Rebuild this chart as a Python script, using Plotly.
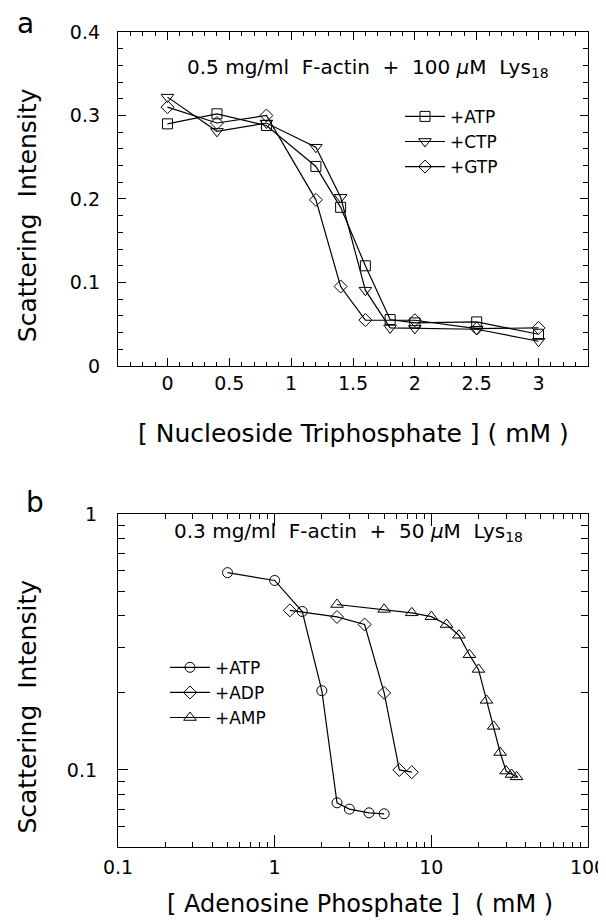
import plotly.graph_objects as go

# ---------------- Panel a data ----------------
ntp_x_atp = [0, 0.4, 0.8, 1.2, 1.4, 1.6, 1.8, 2.0, 2.5, 3.0]
ntp_y_atp = [0.29, 0.302, 0.288, 0.239, 0.19, 0.12, 0.0556, 0.0516, 0.0528, 0.038]
ntp_x_ctp = [0, 0.4, 0.8, 1.2, 1.4, 1.6, 1.8, 2.0, 2.5, 3.0]
ntp_y_ctp = [0.322, 0.281, 0.291, 0.262, 0.202, 0.0908, 0.0456, 0.045, 0.044, 0.0296]
ntp_x_gtp = [0, 0.4, 0.8, 1.2, 1.4, 1.6, 2.0, 2.5, 3.0]
ntp_y_gtp = [0.31, 0.291, 0.30, 0.199, 0.0952, 0.055, 0.0548, 0.0448, 0.0456]

a_xticks = [0, 0.5, 1, 1.5, 2, 2.5, 3]
a_xticktext = ["0", "0.5", "1", "1.5", "2", "2.5", "3"]
a_xminor = [-0.3, -0.2, -0.1, 0.1, 0.2, 0.3, 0.4, 0.6, 0.7, 0.8, 0.9,
            1.1, 1.2, 1.3, 1.4, 1.6, 1.7, 1.8, 1.9, 2.1, 2.2, 2.3, 2.4,
            2.6, 2.7, 2.8, 2.9, 3.1, 3.2, 3.3]
a_yticks = [0, 0.1, 0.2, 0.3, 0.4]
a_yticktext = ["0", "0.1", "0.2", "0.3", "0.4"]
a_yminor = [0.02, 0.04, 0.06, 0.08, 0.12, 0.14, 0.16, 0.18,
            0.22, 0.24, 0.26, 0.28, 0.32, 0.34, 0.36, 0.38]

# ---------------- Panel b data ----------------
ap_x_atp = [0.5, 1.0, 1.5, 2.0, 2.5, 3.0, 4.0, 5.0]
ap_y_atp = [0.59, 0.55, 0.416, 0.204, 0.0744, 0.0703, 0.068, 0.0674]
ap_x_adp = [1.25, 2.5, 3.75, 5.0, 6.25, 7.5]
ap_y_adp = [0.42, 0.396, 0.37, 0.2, 0.1, 0.098]
ap_x_amp = [2.5, 5.0, 7.5, 10, 12.5, 15, 17.5, 20, 22.5, 25, 27.5, 30, 32.5, 35]
ap_y_amp = [0.443, 0.424, 0.411, 0.397, 0.37, 0.336, 0.282, 0.247, 0.187, 0.148,
            0.117, 0.099, 0.096, 0.094]

b_xticks = [0.1, 1, 10, 100]
b_xticktext = ["0.1", "1", "10", "100"]
b_xminor = [0.2, 0.3, 0.4, 0.5, 0.6, 0.7, 0.8, 0.9,
            2, 3, 4, 5, 6, 7, 8, 9,
            20, 30, 40, 50, 60, 70, 80, 90]
b_yticks = [0.1, 1]
b_yticktext = ["0.1", "1"]
b_yminor = [0.06, 0.07, 0.08, 0.09, 0.2, 0.3, 0.4, 0.5, 0.6, 0.7, 0.8, 0.9]

FONT = "DejaVu Sans"
NB = "\u00a0"

fig = go.Figure()

line_style = dict(color="black", width=1.2)


def add(x, y, name, symbol, size, xa, ya, legend):
    fig.add_trace(go.Scatter(
        x=x, y=y, name=name, mode="lines+markers",
        line=line_style,
        marker=dict(symbol=symbol, size=size, color="black",
                    line=dict(color="black", width=1)),
        xaxis=xa, yaxis=ya, legend=legend,
    ))


add(ntp_x_atp, ntp_y_atp, "+ATP", "square-open", 10, "x", "y", "legend")
add(ntp_x_ctp, ntp_y_ctp, "+CTP", "triangle-down-open", 11, "x", "y", "legend")
add(ntp_x_gtp, ntp_y_gtp, "+GTP", "diamond-open", 10, "x", "y", "legend")

add(ap_x_atp, ap_y_atp, "+ATP", "circle-open", 10, "x2", "y2", "legend2")
add(ap_x_adp, ap_y_adp, "+ADP", "diamond-open", 10, "x2", "y2", "legend2")
add(ap_x_amp, ap_y_amp, "+AMP", "triangle-up-open", 11, "x2", "y2", "legend2")

axis_common = dict(
    showline=True, linecolor="black", linewidth=1.3, mirror="ticks",
    ticks="inside", tickcolor="black", tickwidth=1.3,
    showgrid=False, zeroline=False, automargin=False,
    tickfont=dict(family=FONT, size=19, color="black"),
)


def minor(vals, length):
    return dict(tickmode="array", tickvals=vals, ticks="inside",
                ticklen=length, tickcolor="black", tickwidth=1.3,
                showgrid=False)


fig.update_layout(
    width=606, height=920,
    margin=dict(l=110, r=26, t=24, b=81),
    paper_bgcolor="white", plot_bgcolor="white",
    font=dict(family=FONT, color="black"),
    xaxis=dict(
        **axis_common, anchor="y", domain=[0, 1],
        range=[-0.4, 3.4], tickmode="array", tickvals=a_xticks,
        ticktext=a_xticktext, ticklen=8, ticklabelstandoff=0,
        minor=minor(a_xminor, 4),
    ),
    yaxis=dict(
        **axis_common, anchor="x", domain=[0.5902, 1],
        range=[0, 0.4], tickmode="array", tickvals=a_yticks,
        ticktext=a_yticktext, ticklen=8, ticklabelstandoff=13,
        minor=minor(a_yminor, 5),
    ),
    xaxis2=dict(
        **axis_common, anchor="y2", domain=[0, 1], type="log",
        range=[-1, 2], tickmode="array", tickvals=b_xticks,
        ticktext=b_xticktext, ticklen=12, ticklabelstandoff=3,
        minor=minor(b_xminor, 5),
    ),
    yaxis2=dict(
        **axis_common, anchor="x2", domain=[0, 0.4086], type="log",
        range=[-1.30103, 0], tickmode="array", tickvals=b_yticks,
        ticktext=b_yticktext, ticklen=10, ticklabelstandoff=16,
        minor=minor(b_yminor, 7),
    ),
    legend=dict(
        x=0.60, y=0.918, xanchor="left", yanchor="top",
        bgcolor="rgba(0,0,0,0)", borderwidth=0, tracegroupgap=0,
        font=dict(family=FONT, size=17, color="black"),
        itemwidth=40,
    ),
    legend2=dict(
        x=0.10, y=0.242, xanchor="left", yanchor="top",
        bgcolor="rgba(0,0,0,0)", borderwidth=0, tracegroupgap=0,
        font=dict(family=FONT, size=17, color="black"),
        itemwidth=40,
    ),
    showlegend=True,
)

ann_font = dict(family=FONT, size=20, color="black")
title_font = dict(family=FONT, size=25, color="black")
letter_font = dict(family=FONT, size=28, color="black")

annotations = [
    dict(text=f"0.5{NB}mg/ml{NB}{NB}F-actin{NB}{NB}+{NB}{NB}100{NB}<i>μ</i>M{NB}{NB}Lys<sub>18</sub>",
         x=0.531, y=0.9555, font=ann_font),
    dict(text=f"0.3{NB}mg/ml{NB}{NB}F-actin{NB}{NB}+{NB}{NB}50{NB}<i>μ</i>M{NB}{NB}Lys<sub>18</sub>",
         x=0.490, y=0.3865, font=ann_font),
    dict(text=f"[{NB}Nucleoside{NB}Triphosphate{NB}]{NB}({NB}mM{NB})",
         x=0.50, y=0.507, font=title_font),
    dict(text=f"[{NB}Adenosine{NB}Phosphate{NB}]{NB}{NB}({NB}mM{NB})",
         x=0.515, y=-0.0705, font=dict(family=FONT, size=24, color="black")),
    dict(text=f"Scattering{NB}{NB}Intensity", x=-0.192, y=0.775,
         textangle=-90, font=title_font),
    dict(text=f"Scattering{NB}{NB}Intensity", x=-0.192, y=0.172,
         textangle=-90, font=title_font),
    dict(text="a", x=-0.196, y=1.01, font=letter_font),
    dict(text="b", x=-0.177, y=0.423, font=letter_font),
]
for a in annotations:
    fig.add_annotation(xref="paper", yref="paper", showarrow=False,
                       xanchor="center", yanchor="middle", **a)

fig.write_html("out.html")
